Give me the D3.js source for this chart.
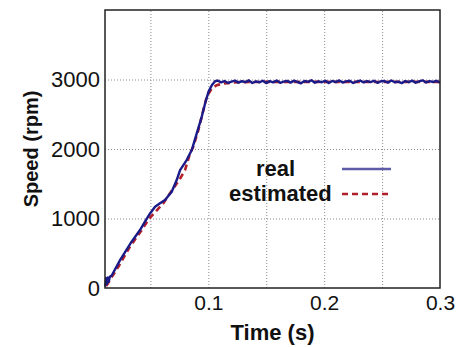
<!DOCTYPE html>
<html><head><meta charset="utf-8">
<script src="https://cdn.jsdelivr.net/npm/d3@7"></script>
<style>
body{margin:0;background:#fff;}
svg{display:block;font-family:"Liberation Sans",Arial,sans-serif;}
</style></head>
<body><svg id="chart" width="457" height="347"></svg>
<script>
// ---- data ----
const xTicks = [0.1, 0.2, 0.3];
const xGrid = [0.05, 0.1, 0.15, 0.2, 0.25];
const yTicks = [0, 1000, 2000, 3000];
const seriesNames = ["real", "estimated"];

const realTime = [0.011, 0.0118, 0.0125, 0.0132, 0.0140, 0.0150, 0.0166, 0.0238, 0.0338, 0.041, 0.0453, 0.0497, 0.054, 0.0583, 0.0626, 0.0684, 0.0727, 0.0756, 0.0813, 0.0857, 0.09, 0.0943, 0.0972, 0.1001, 0.103, 0.1058, 0.1080,
  0.111, 0.114, 0.117, 0.120, 0.123, 0.126, 0.129, 0.132, 0.135, 0.138, 0.141, 0.144, 0.147, 0.150, 0.153, 0.156, 0.159, 0.162, 0.165, 0.168, 0.171, 0.174, 0.177, 0.180, 0.183, 0.186, 0.189, 0.192, 0.195, 0.198, 0.201, 0.204, 0.207, 0.210, 0.213, 0.216, 0.219, 0.222, 0.225, 0.228, 0.231, 0.234, 0.237, 0.240, 0.243, 0.246, 0.249, 0.252, 0.255, 0.258, 0.261, 0.264, 0.267, 0.270, 0.273, 0.276, 0.279, 0.282, 0.285, 0.288, 0.291, 0.294, 0.297, 0.300];
const realSpeed = [20, 140, 60, 150, 90, 162, 180, 402, 666, 834, 954, 1073, 1170, 1218, 1265, 1385, 1553, 1697, 1841, 1985, 2224, 2463, 2655, 2822, 2918, 2975, 2985,
  2958, 2978, 2950, 2970, 2984, 2955, 2975, 2962, 2988, 2950, 2972, 2960, 2982, 2948, 2976, 2958, 2986, 2952, 2970, 2980, 2955, 2984, 2964, 2946, 2978, 2966, 2988, 2954, 2974, 2960, 2983, 2950, 2979, 2962, 2987, 2956, 2972, 2982, 2950, 2968, 2985, 2958, 2976, 2962, 2982, 2952, 2975, 2979, 2955, 2986, 2960, 2970, 2948, 2978, 2963, 2984, 2954, 2972, 2988, 2957, 2976, 2964, 2981, 2953, 2970];

const estTime = [0.012, 0.0151, 0.0223, 0.0324, 0.0425, 0.049, 0.0611, 0.0727, 0.0741, 0.0799, 0.0842, 0.087, 0.0914, 0.0957, 0.0986, 0.1029, 0.1072, 0.113, 0.1187, 0.126, 0.15, 0.2, 0.25, 0.3];
const estSpeed = [30, 115, 306, 594, 834, 1000, 1218, 1505, 1530, 1697, 1937, 2033, 2272, 2560, 2750, 2870, 2918, 2942, 2952, 2962, 2966, 2966, 2965, 2966];

// ---- layout ----
const L = 105, R = 440, T = 10, B = 288;
const svg = d3.select("#chart");
svg.append("rect").attr("width", 457).attr("height", 347).attr("fill", "#fff");

const x = d3.scaleLinear().domain([0.0108, 0.3]).range([L, R]);
const y = d3.scaleLinear().domain([0, 4000]).range([B, T]);

// grid
svg.append("g").attr("transform", `translate(0,${B})`)
  .call(d3.axisBottom(x).tickValues(xGrid).tickSize(-(B - T)).tickFormat(""))
  .call(g => g.select(".domain").remove())
  .call(g => g.selectAll("line").attr("stroke", "#8a8a8a").attr("stroke-width", 1).attr("stroke-dasharray", "1,2"));
svg.append("g").attr("transform", `translate(${L},0)`)
  .call(d3.axisLeft(y).tickValues(yTicks.filter(v => v > 0)).tickSize(-(R - L)).tickFormat(""))
  .call(g => g.select(".domain").remove())
  .call(g => g.selectAll("line").attr("stroke", "#8a8a8a").attr("stroke-width", 1).attr("stroke-dasharray", "1,2"));

// tick labels
svg.append("g").attr("transform", `translate(0,${B})`)
  .call(d3.axisBottom(x).tickValues(xTicks).tickSize(0).tickPadding(7).tickFormat(d3.format(".1f")))
  .call(g => g.select(".domain").remove())
  .call(g => g.selectAll("text").attr("font-size", 21).attr("fill", "#111").attr("font-family", "Liberation Sans, Arial, sans-serif"));
svg.append("g").attr("transform", `translate(${L},0)`)
  .call(d3.axisLeft(y).tickValues(yTicks).tickSize(0).tickPadding(5).tickFormat(d3.format("d")))
  .call(g => g.select(".domain").remove())
  .call(g => g.selectAll("text").attr("font-size", 22).attr("fill", "#111").attr("font-family", "Liberation Sans, Arial, sans-serif"));

// lines
const lineGen = d3.line().x(d => x(d[0])).y(d => y(d[1]));
const estData = estTime.map((t, i) => [t, estSpeed[i]]);
const realData = realTime.map((t, i) => [t, realSpeed[i]]);
svg.append("path").datum(estData).attr("d", lineGen)
  .attr("fill", "none").attr("stroke", "#b0202a").attr("stroke-width", 2.6).attr("stroke-dasharray", "6,4");
svg.append("path").datum(realData).attr("d", lineGen)
  .attr("fill", "none").attr("stroke", "#1a1a88").attr("stroke-width", 2.4).attr("stroke-linejoin", "round");

// frame
svg.append("rect").attr("x", L).attr("y", T).attr("width", R - L).attr("height", B - T)
  .attr("fill", "none").attr("stroke", "#222").attr("stroke-width", 1.5);

// axis titles
svg.append("text").attr("x", (L + R) / 2).attr("y", 340).attr("text-anchor", "middle")
  .attr("font-size", 22).attr("font-weight", "bold").attr("fill", "#111").text("Time (s)");
svg.append("text").attr("transform", `translate(38,${(T + B) / 2}) rotate(-90)`).attr("text-anchor", "middle")
  .attr("font-size", 20).attr("font-weight", "bold").attr("fill", "#111").text("Speed (rpm)");

// legend
const legend = svg.append("g");
const legItems = [
  {name: seriesNames[0], tx: 256, ty: 176, ly: 169, color: "#5c5ca8", dash: null},
  {name: seriesNames[1], tx: 229, ty: 201, ly: 194, color: "#b0202a", dash: "6,4"}
];
legItems.forEach(it => {
  legend.append("text").attr("x", it.tx).attr("y", it.ty).attr("font-size", 22).attr("font-weight", "bold")
    .attr("fill", "#111").text(it.name);
  legend.append("line").attr("x1", 342).attr("x2", 391).attr("y1", it.ly).attr("y2", it.ly)
    .attr("stroke", it.color).attr("stroke-width", 2.5).attr("stroke-dasharray", it.dash);
});
</script></body></html>
